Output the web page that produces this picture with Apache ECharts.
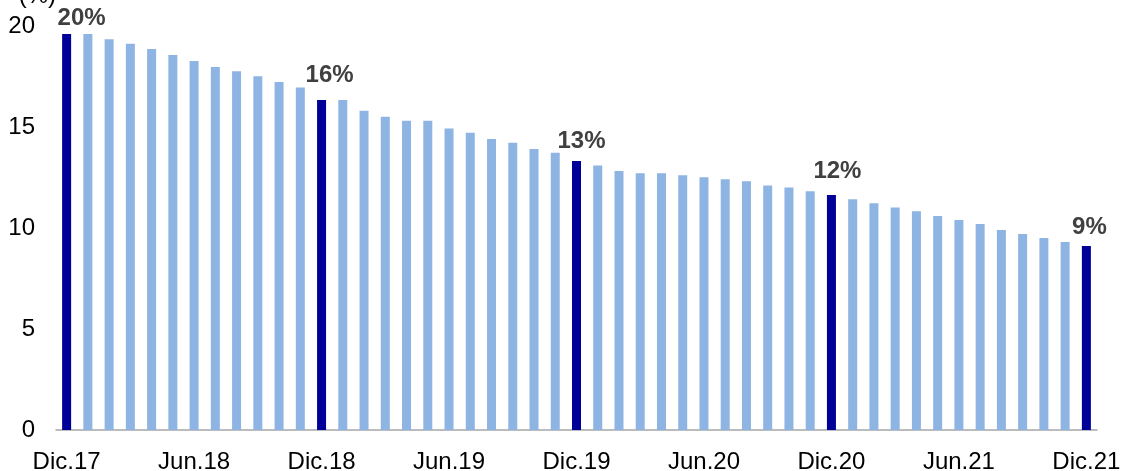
<!DOCTYPE html>
<html>
<head>
<meta charset="utf-8">
<script src="https://cdn.jsdelivr.net/npm/echarts@6/dist/echarts.min.js"></script>
<style>
  html, body { margin: 0; padding: 0; background: #ffffff; }
  #chart { width: 1121px; height: 471px; }
</style>
</head>
<body>
<div id="chart"></div>
<script>
const categories = [
  'Dic.17','Ene.18','Feb.18','Mar.18','Abr.18','May.18','Jun.18','Jul.18','Ago.18','Sep.18','Oct.18','Nov.18',
  'Dic.18','Ene.19','Feb.19','Mar.19','Abr.19','May.19','Jun.19','Jul.19','Ago.19','Sep.19','Oct.19','Nov.19',
  'Dic.19','Ene.20','Feb.20','Mar.20','Abr.20','May.20','Jun.20','Jul.20','Ago.20','Sep.20','Oct.20','Nov.20',
  'Dic.20','Ene.21','Feb.21','Mar.21','Abr.21','May.21','Jun.21','Jul.21','Ago.21','Sep.21','Oct.21','Nov.21',
  'Dic.21'
];
const values = [
  19.6, 19.6, 19.34, 19.12, 18.86, 18.56, 18.27, 17.97, 17.76, 17.51, 17.23, 16.96,
  16.34, 16.34, 15.81, 15.51, 15.31, 15.31, 14.92, 14.72, 14.41, 14.22, 13.91, 13.73,
  13.32, 13.1, 12.82, 12.71, 12.71, 12.61, 12.51, 12.41, 12.31, 12.11, 12.01, 11.82,
  11.63, 11.42, 11.22, 11.02, 10.83, 10.59, 10.4, 10.2, 9.9, 9.7, 9.5, 9.31,
  9.11
];
const highlightIndex = [0, 12, 24, 36, 48];
const highlightText = ['20%', '16%', '13%', '12%', '9%'];
const yTicks = [0, 5, 10, 15, 20];

// label nudges (style, not data)
const labelNudge = [[15, 0], [8, -9], [5, -4], [6, -8], [3, -3]];

const LIGHT = '#8EB4E3';
const DARK = '#000099';

const seriesData = values.map((v, i) => {
  const h = highlightIndex.indexOf(i);
  if (h < 0) {
    return { value: v, itemStyle: { color: LIGHT } };
  }
  return {
    value: v,
    itemStyle: { color: DARK },
    label: {
      show: true,
      position: 'top',
      distance: 4,
      offset: labelNudge[h],
      formatter: highlightText[h],
      fontFamily: 'Liberation Sans, Arial, sans-serif',
      fontWeight: 'bold',
      fontSize: 24,
      color: '#404040'
    }
  };
});

const chart = echarts.init(document.getElementById('chart'), null, { renderer: 'canvas' });
chart.setOption({
  animation: false,
  backgroundColor: '#ffffff',
  grid: { left: 56, right: 24, top: 26, bottom: 41, containLabel: false, outerBoundsMode: 'none' },
  xAxis: {
    type: 'category',
    data: categories,
    boundaryGap: true,
    axisLine: { show: true, lineStyle: { color: '#A6A6A6', width: 1.5 } },
    axisTick: { show: false },
    axisLabel: {
      interval: 5,
      margin: 20,
      fontFamily: 'Liberation Sans, Arial, sans-serif',
      fontSize: 24,
      color: '#000000'
    }
  },
  yAxis: {
    type: 'value',
    min: yTicks[0],
    max: yTicks[yTicks.length - 1],
    interval: 5,
    name: '(%)',
    nameLocation: 'end',
    nameGap: 18,
    nameTextStyle: {
      fontFamily: 'Liberation Sans, Arial, sans-serif',
      fontSize: 24,
      color: '#000000',
      align: 'right'
    },
    axisLine: { show: false },
    axisTick: { show: false },
    splitLine: { show: false },
    axisLabel: {
      margin: 21,
      fontFamily: 'Liberation Sans, Arial, sans-serif',
      fontSize: 24,
      color: '#000000'
    }
  },
  series: [{
    type: 'bar',
    data: seriesData,
    barWidth: 9,
    label: { show: false }
  }]
});
</script>
</body>
</html>
